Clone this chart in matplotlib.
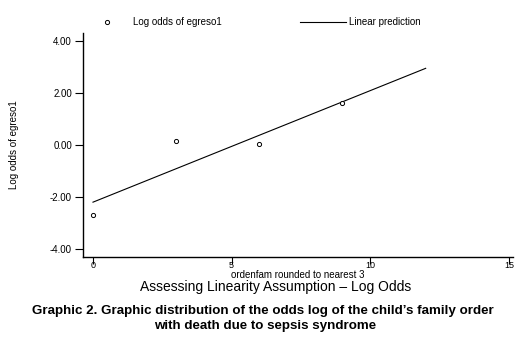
import numpy as np
import matplotlib.pyplot as plt
from matplotlib.lines import Line2D

plt.rcParams['font.family'] = ['Liberation Sans', 'DejaVu Sans']

# data
order_x = [0, 3, 6, 9]
log_odds = [-2.68, 0.15, 0.05, 1.62]
pred_x = [0, 12]
pred_y = [-2.2, 2.95]
xticks = [0, 5, 10, 15]
yticks = [-4, -2, 0, 2, 4]

fig = plt.figure(figsize=(5.24, 3.40), dpi=100)
ax = fig.add_axes([0.1584, 0.2441, 0.8206, 0.6589])

ax.scatter(order_x, log_odds, s=9, facecolors='white', edgecolors='black', linewidths=0.7, zorder=3)
ax.plot(pred_x, pred_y, color='black', linewidth=0.8)

ax.set_xlim(-0.36, 15.15)
ax.set_ylim(-4.31, 4.31)
ax.set_xticks(xticks)
ax.set_yticks(yticks)
ax.set_yticklabels([f"{v:.2f}" for v in yticks])
ax.tick_params(axis='y', labelsize=7, length=6, width=0.8, pad=2)
ax.tick_params(axis='x', labelsize=6.5, length=5, width=0.8, pad=-2)
for side in ['top', 'right']:
    ax.spines[side].set_visible(False)
for side in ['left', 'bottom']:
    ax.spines[side].set_linewidth(1.0)

ax.set_ylabel("Log odds of egreso1", fontsize=7)
ax.yaxis.set_label_coords(-0.149, 0.5)

# legend on top
fig.add_artist(Line2D([107/524], [1 - 22/340], marker='o', markersize=3, markerfacecolor='white',
                      markeredgecolor='black', markeredgewidth=0.7, linestyle='none'))
fig.text(133/524, 1 - 22/340, "Log odds of egreso1", fontsize=7, va='center')
fig.add_artist(Line2D([300/524, 346/524], [1 - 22/340, 1 - 22/340], color='black', linewidth=0.8))
fig.text(349/524, 1 - 22/340, "Linear prediction", fontsize=7, va='center')

fig.text(298/524, 1 - 275/340, "ordenfam rounded to nearest 3", fontsize=7, ha='center', va='center')
fig.text(276/524, 1 - 287/340, "Assessing Linearity Assumption \u2013 Log Odds", fontsize=10,
         ha='center', va='center')
fig.text(263/524, 1 - 311/340, "Graphic 2. Graphic distribution of the odds log of the child\u2019s family order",
         fontsize=9.6, fontweight='bold', ha='center', va='center')
fig.text(265/524, 1 - 326/340, "with death due to sepsis syndrome",
         fontsize=9.6, fontweight='bold', ha='center', va='center')

fig.savefig("out.png", dpi=100)
